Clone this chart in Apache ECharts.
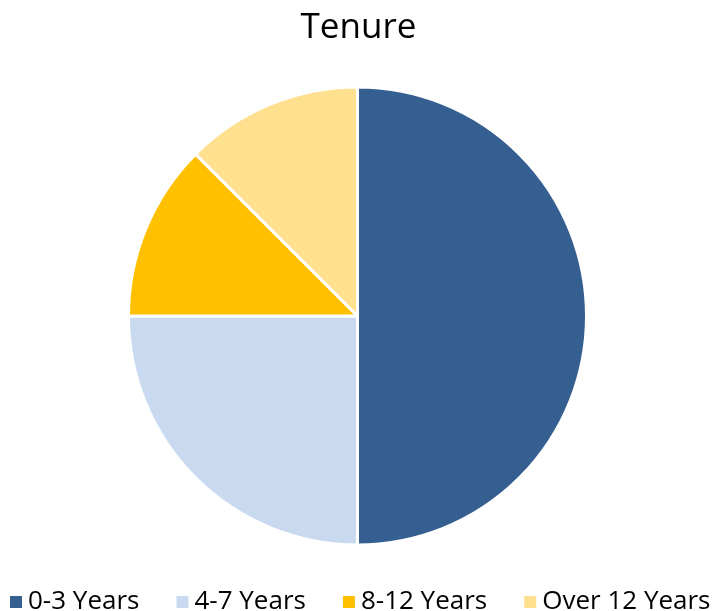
<!DOCTYPE html>
<html><head><meta charset="utf-8">
<script src="https://cdn.jsdelivr.net/npm/echarts@6/dist/echarts.min.js"></script>
<style>html,body{margin:0;padding:0;background:#fff}#c{width:717px;height:611px}</style>
</head><body><div id="c"></div>
<script>
const categories = ['0-3 Years','4-7 Years','8-12 Years','Over 12 Years'];
const values = [50, 25, 12.5, 12.5];
const colors = ['#355F91','#C8D9F0','#FFC000','#FFE08F'];
const chart = echarts.init(document.getElementById('c'));
chart.setOption({
  animation:false,
  title:{text:'Tenure',left:'center',top:6,textStyle:{fontFamily:'Open Sans',fontSize:35,fontWeight:'normal',color:'#000'}},
  legend:{bottom:-4,left:8,width:717,padding:0,itemWidth:14,itemHeight:14,itemGap:35,icon:'rect',
    textStyle:{fontFamily:'Open Sans',fontSize:26,color:'#000'},data:categories},
  series:[{type:'pie',center:[357.5,316],radius:229,startAngle:90,clockwise:true,
    label:{show:false},labelLine:{show:false},emphasis:{disabled:true},
    itemStyle:{borderColor:'#fff',borderWidth:3},
    data:categories.map((c,i)=>({name:c,value:values[i],itemStyle:{color:colors[i]}}))}]
});
</script></body></html>
